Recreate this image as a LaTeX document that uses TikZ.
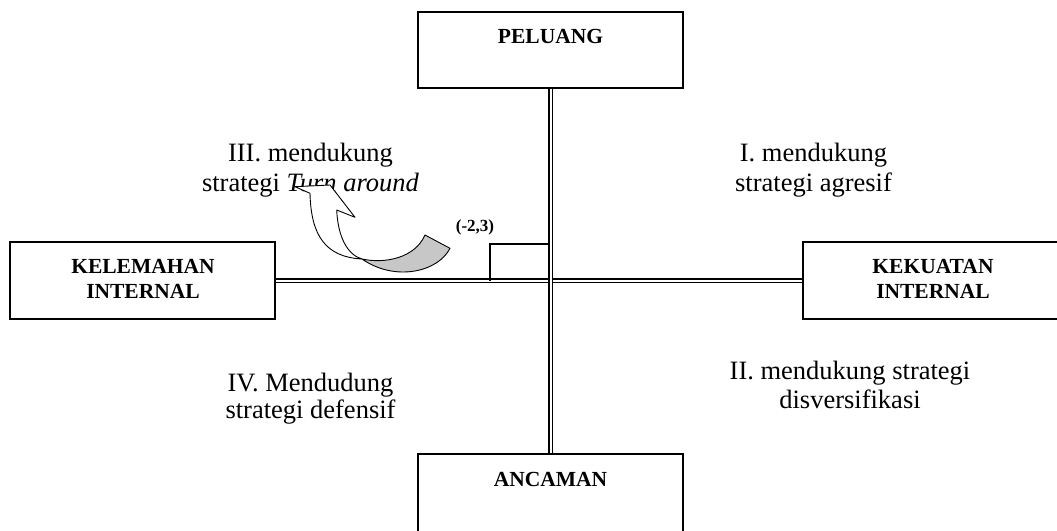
\documentclass[tikz,border=0pt]{standalone}
\usepackage{fontspec}
\setmainfont{Liberation Serif}
\begin{document}
\begin{tikzpicture}[x=1pt,y=-1pt,
  box/.style={draw=black, line width=1.3pt, fill=white, rectangle, inner sep=0pt},
  boxlbl/.style={font=\bfseries\fontsize{21.5}{25}\selectfont, anchor=base, inner sep=0pt},
  quad/.style={font=\fontsize{26.5}{30}\selectfont, anchor=base, inner sep=0pt},
  dbl/.style={draw=black, line width=1.2pt, double=white, double distance=2pt},
  marker/.style={draw=black, line width=2.6pt},
  arrowfront/.style={draw=black, line width=0.9pt, fill=white, line join=round},
  arrowback/.style={draw=black, line width=0.9pt, fill=black!22, line join=round}]
\useasboundingbox (0,0) rectangle (1057,530);

% boxes
\node[box, minimum width=265pt, minimum height=76pt] (peluang) at (550.5,50) {};
\node[box, minimum width=265pt, minimum height=86pt] (ancaman) at (550.5,497) {};
\node[box, minimum width=265pt, minimum height=77pt] (kelemahan) at (142.5,280.5) {};
\node[box, minimum width=267pt, minimum height=77pt] (kekuatan) at (936.5,280.5) {};

% connectors (double lines)
\draw[dbl] (kelemahan.east) -- (kekuatan.west);
\draw[dbl] (peluang.south) -- (ancaman.north);

% box labels
\node[boxlbl] (tpel) at (550.5,43.3) {PELUANG};
\node[boxlbl] (tanc) at (550.5,486) {ANCAMAN};
\node[boxlbl] (tkel1) at (143,273.3) {KELEMAHAN};
\node[boxlbl] (tkel2) at (143,298.3) {INTERNAL};
\node[boxlbl] (tkek1) at (933,273.3) {KEKUATAN};
\node[boxlbl] (tkek2) at (933,298.3) {INTERNAL};

% quadrant labels
\node[quad] (q3a) at (310.5,161.7) {III. mendukung};
\node[quad] (q3b) at (310.5,191.7) {strategi \textit{Turn around}};
\node[quad] (q1a) at (813.5,161.7) {I. mendukung};
\node[quad] (q1b) at (813.5,191.7) {strategi agresif};
\node[quad] (q4a) at (310.5,391.7) {IV. Mendudung};
\node[quad] (q4b) at (310.5,418) {strategi defensif};
\node[quad] (q2a) at (850,379.3) {II. mendukung strategi};
\node[quad] (q2b) at (850,408.3) {disversifikasi};

% position marker
\coordinate (m1) at (490,280);
\coordinate (m2) at (490,244);
\coordinate (m3) at (548,244);
\draw[marker, line cap=rect] (m1) -- (m2) -- (m3);
\node[font=\bfseries\fontsize{17}{20}\selectfont, anchor=base, inner sep=0pt] (pos) at (475,231.7) {(-2,3)};

% curved arrow
\coordinate (X) at (362,259);
\draw[arrowback] (X) .. controls (385,264) and (415,258) .. (425,235)
  -- (450,248.3) .. controls (438,272) and (395,282) .. (X) -- cycle;
\draw[arrowfront] (295,186.7) -- (330,185) -- (355,217.3) -- (336.7,210)
  .. controls (338,238) and (348,255) .. (X)
  .. controls (325,257) and (311,235) .. (310,193.3) -- cycle;
\end{tikzpicture}
\end{document}
